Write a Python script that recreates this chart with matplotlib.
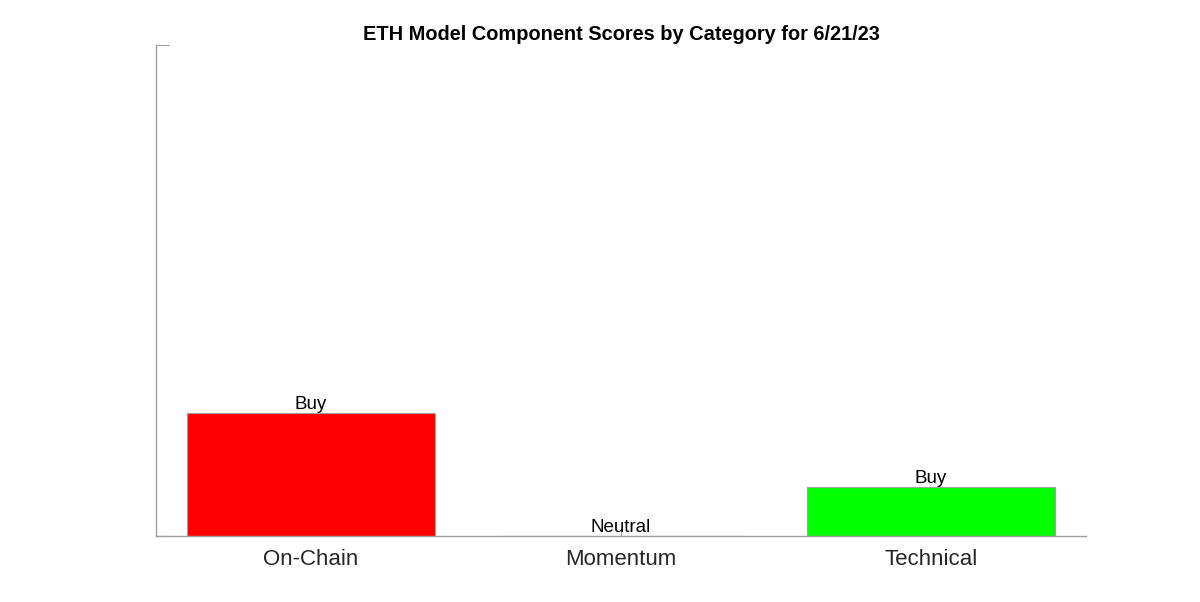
import matplotlib
matplotlib.use("Agg")
import matplotlib.pyplot as plt

categories = ["On-Chain", "Momentum", "Technical"]
scores = [0.25, 0.0, 0.1]
signals = ["Buy", "Neutral", "Buy"]
colors = ["#ff0000", "#00ff00", "#00ff00"]
title = "ETH Model Component Scores by Category for 6/21/23"

plt.rcParams['font.family'] = ['Liberation Sans', 'DejaVu Sans']

fig = plt.figure(figsize=(12, 6.02), dpi=100)
ax = fig.add_axes([156/1200, 1 - 536/602, 930/1200, 491/602])
ax.set_axisbelow(True)

x = list(range(1, len(categories) + 1))
ax.bar(x, scores, width=0.8, color=colors, edgecolor="#a0a0a0", linewidth=0.8, zorder=2)
for xi, s, lab in zip(x, scores, signals):
    ax.text(xi, s, lab, ha="center", va="bottom", fontsize=13.5, color="black", zorder=3)

ax.set_xlim(0.5, 3.5)
ax.set_ylim(0, 1)
ax.set_xticks(x)
ax.set_xticklabels(categories, fontsize=16, color="#262626")
ax.set_yticks([0, 1])
ax.set_yticklabels([])
ax.tick_params(axis="x", direction="in", length=5, color="#a0a0a0", pad=9.5)
ax.tick_params(axis="y", direction="in", length=9, color="#a0a0a0")
for side in ["top", "right"]:
    ax.spines[side].set_visible(False)
for side in ["left", "bottom"]:
    ax.spines[side].set_color("#a0a0a0")
    ax.spines[side].set_linewidth(1.0)

ax.set_title(title, fontsize=14.4, fontweight="bold", pad=3.5)

fig.savefig("out.png", dpi=100)
